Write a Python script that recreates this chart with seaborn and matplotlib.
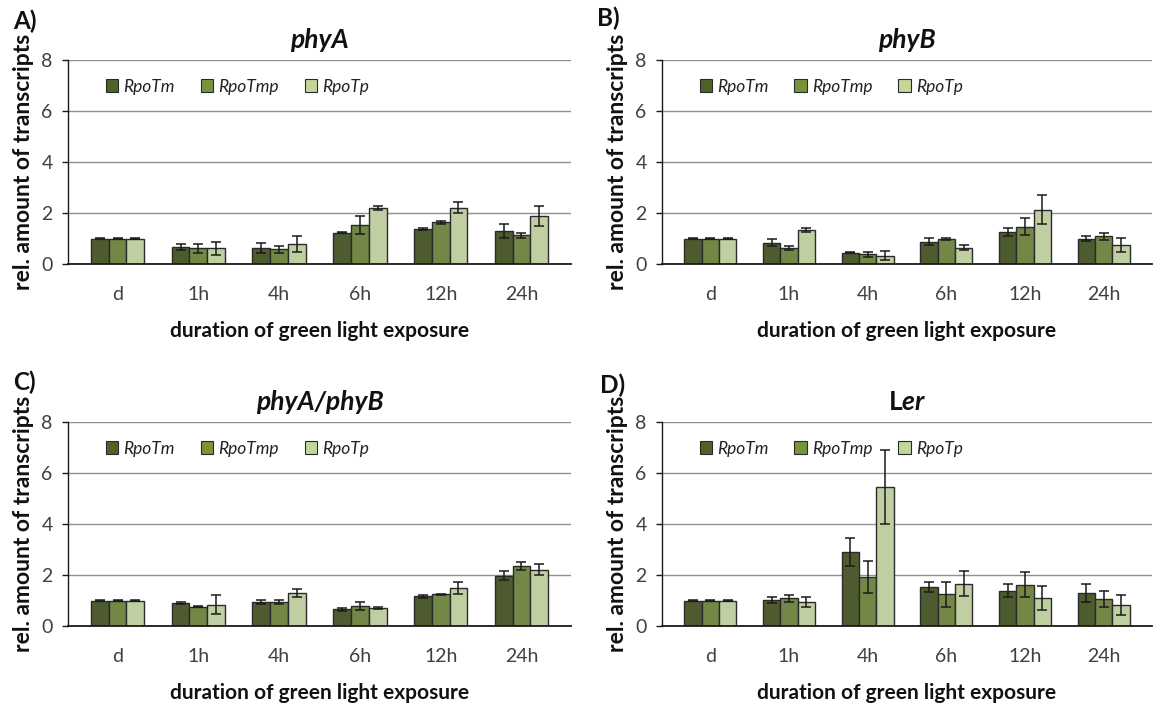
import matplotlib
matplotlib.use("Agg")
import matplotlib.pyplot as plt
from matplotlib.patches import Patch
import seaborn as sns
import pandas as pd

# ---- data -------------------------------------------------------------
categories = ["d", "1h", "4h", "6h", "12h", "24h"]
series = ["RpoTm", "RpoTmp", "RpoTp"]

phyA_RpoTm = [1.00, 0.67, 0.63, 1.23, 1.38, 1.28]
phyA_RpoTmp = [1.00, 0.61, 0.57, 1.53, 1.63, 1.13]
phyA_RpoTp = [1.00, 0.61, 0.77, 2.21, 2.21, 1.88]
phyA_err_RpoTm = [0.02, 0.13, 0.19, 0.02, 0.03, 0.27]
phyA_err_RpoTmp = [0.02, 0.17, 0.15, 0.35, 0.05, 0.10]
phyA_err_RpoTp = [0.02, 0.25, 0.31, 0.08, 0.21, 0.40]

phyB_RpoTm = [1.00, 0.84, 0.45, 0.87, 1.26, 0.99]
phyB_RpoTmp = [1.00, 0.63, 0.39, 0.99, 1.47, 1.08]
phyB_RpoTp = [1.00, 1.32, 0.33, 0.64, 2.12, 0.74]
phyB_err_RpoTm = [0.02, 0.15, 0.03, 0.14, 0.15, 0.10]
phyB_err_RpoTmp = [0.02, 0.09, 0.10, 0.04, 0.32, 0.14]
phyB_err_RpoTp = [0.02, 0.08, 0.17, 0.10, 0.57, 0.27]

phyAB_RpoTm = [1.00, 0.90, 0.94, 0.65, 1.16, 1.98]
phyAB_RpoTmp = [1.00, 0.76, 0.94, 0.80, 1.24, 2.36]
phyAB_RpoTp = [1.00, 0.84, 1.29, 0.69, 1.48, 2.21]
phyAB_err_RpoTm = [0.02, 0.04, 0.09, 0.06, 0.06, 0.16]
phyAB_err_RpoTmp = [0.02, 0.02, 0.09, 0.16, 0.03, 0.15]
phyAB_err_RpoTp = [0.02, 0.36, 0.15, 0.04, 0.24, 0.22]

Ler_RpoTm = [1.00, 1.01, 2.90, 1.52, 1.38, 1.28]
Ler_RpoTmp = [1.00, 1.08, 1.91, 1.24, 1.62, 1.07]
Ler_RpoTp = [1.00, 0.94, 5.45, 1.66, 1.08, 0.82]
Ler_err_RpoTm = [0.02, 0.11, 0.54, 0.20, 0.26, 0.35]
Ler_err_RpoTmp = [0.02, 0.15, 0.62, 0.48, 0.49, 0.31]
Ler_err_RpoTp = [0.02, 0.21, 1.44, 0.50, 0.47, 0.38]

panels = [
    ("A)", "phyA", [phyA_RpoTm, phyA_RpoTmp, phyA_RpoTp],
     [phyA_err_RpoTm, phyA_err_RpoTmp, phyA_err_RpoTp]),
    ("B)", "phyB", [phyB_RpoTm, phyB_RpoTmp, phyB_RpoTp],
     [phyB_err_RpoTm, phyB_err_RpoTmp, phyB_err_RpoTp]),
    ("C)", "phyA/phyB", [phyAB_RpoTm, phyAB_RpoTmp, phyAB_RpoTp],
     [phyAB_err_RpoTm, phyAB_err_RpoTmp, phyAB_err_RpoTp]),
    ("D)", "L$\\mathit{er}$", [Ler_RpoTm, Ler_RpoTmp, Ler_RpoTp],
     [Ler_err_RpoTm, Ler_err_RpoTmp, Ler_err_RpoTp]),
]

colors = ["#4F6228", "#77933C", "#C3D69B"]

# ---- style ------------------------------------------------------------
sns.set_style("white")
plt.rcParams["font.family"] = ["Lato", "DejaVu Sans"]
plt.rcParams["mathtext.fontset"] = "custom"
plt.rcParams["mathtext.it"] = "Lato:italic:bold"
plt.rcParams["mathtext.rm"] = "Lato:bold"

W, H = 1154, 707
fig = plt.figure(figsize=(W / 100, H / 100), dpi=100)
fig.patch.set_facecolor("white")

# axes boxes in pixels: left, top, right, bottom
boxes = [
    (68, 60, 571, 264),
    (662, 60, 1152, 264),
    (68, 422, 571, 626),
    (662, 422, 1152, 626),
]
label_pos = [(13, 21), (597, 18), (13, 382), (600, 385)]

for (tag, title, means, errs), box, lp in zip(panels, boxes, label_pos):
    l, t, r, b = box
    ax = fig.add_axes([l / W, 1 - b / H, (r - l) / W, (b - t) / H])

    df = pd.DataFrame({
        "time": [c for s in series for c in categories],
        "line": [s for s in series for c in categories],
        "value": [v for vals in means for v in vals],
    })
    sns.barplot(data=df, x="time", y="value", hue="line",
                order=categories, hue_order=series, palette=colors,
                edgecolor="#2a2a2a", linewidth=1.0, width=0.66, gap=0,
                errorbar=None, legend=False, ax=ax, zorder=2)

    # error bars at the centres of the drawn bars
    for cont, vals, ev in zip(ax.containers, means, errs):
        xs = [p.get_x() + p.get_width() / 2 for p in cont.patches]
        ax.errorbar(xs, vals, yerr=ev, fmt="none", ecolor="#1a1a1a",
                    elinewidth=1.1, capsize=3.4, capthick=1.1, zorder=3)

    ax.set_ylim(0, 8)
    ax.set_yticks([0, 2, 4, 6, 8])
    ax.yaxis.grid(True, color="#8f8f8f", linewidth=1.0)
    ax.xaxis.grid(False)
    ax.set_axisbelow(True)
    for s in ("top", "right"):
        ax.spines[s].set_visible(False)
    ax.spines["left"].set_color("#1a1a1a")
    ax.spines["left"].set_linewidth(1.0)
    ax.spines["bottom"].set_color("#1a1a1a")
    ax.spines["bottom"].set_linewidth(1.3)
    ax.tick_params(axis="y", left=True, length=4, width=1, color="#1a1a1a",
                   labelsize=14, labelcolor="#404040", pad=7)
    ax.tick_params(axis="x", bottom=False, length=0, labelsize=14,
                   labelcolor="#404040", pad=16)

    ax.set_xlabel("duration of green light exposure", fontsize=15,
                  fontweight="bold", color="#111111", labelpad=13)
    ax.set_ylabel("rel. amount of transcripts", fontsize=16.5,
                  fontweight="bold", color="#111111", labelpad=5)
    ax.set_title(title, fontsize=19, fontweight="bold",
                 fontstyle="italic" if "$" not in title else "normal",
                 color="#111111", pad=9)

    handles = [Patch(facecolor=c, edgecolor="#2a2a2a", linewidth=0.8, label=s)
               for c, s in zip(colors, series)]
    ax.legend(handles=handles, ncol=3, loc="center left",
              bbox_to_anchor=(0.045, 0.87), frameon=False,
              prop={"style": "italic", "size": 12.5},
              handlelength=0.7, handleheight=0.7, handletextpad=0.3,
              columnspacing=1.5, labelcolor="#222222")

    fig.text(lp[0] / W, 1 - lp[1] / H, tag, fontsize=17.5, fontweight="bold",
             ha="left", va="center", color="#111111")

fig.savefig("out.png", dpi=100, facecolor="white")
